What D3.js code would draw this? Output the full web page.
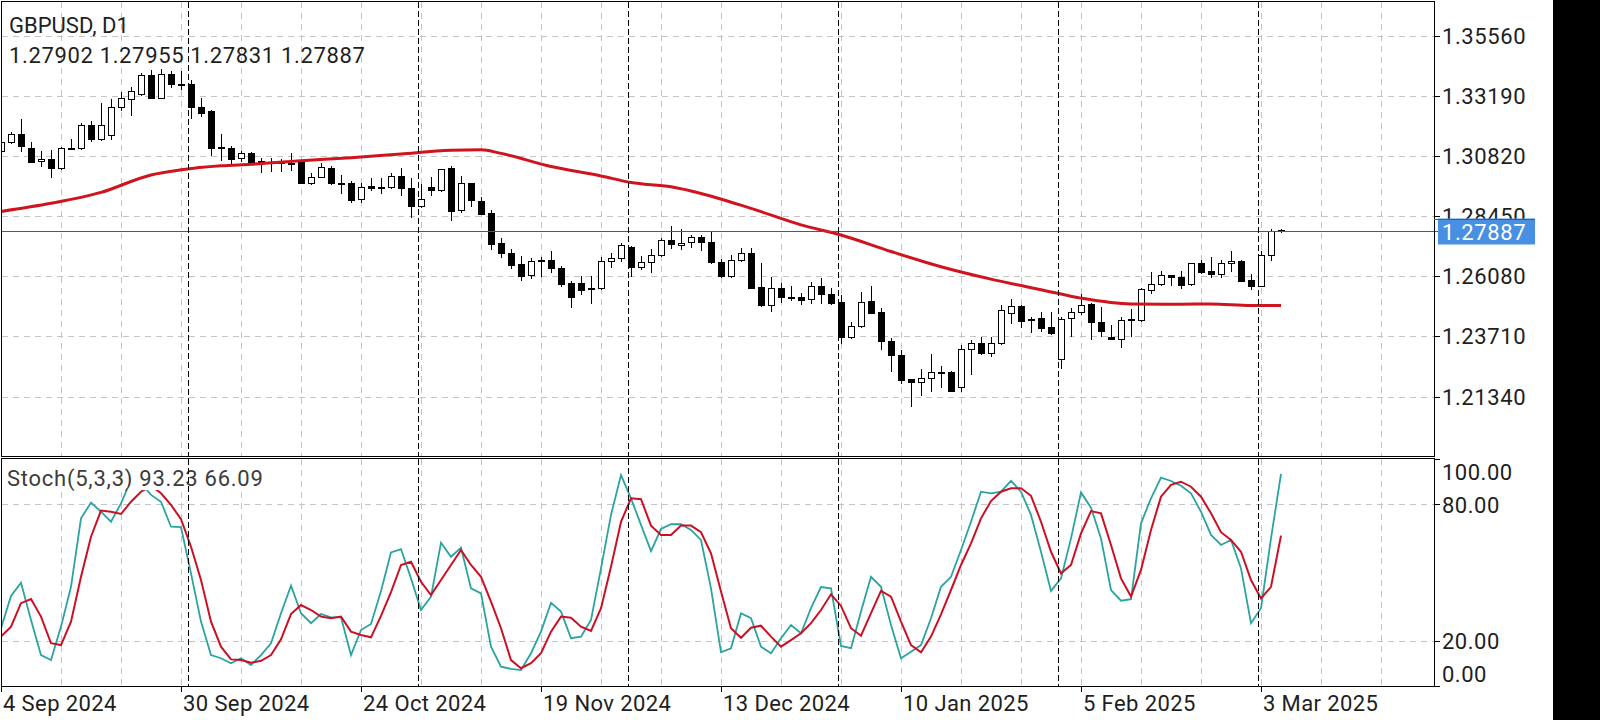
<!DOCTYPE html>
<html><head><meta charset="utf-8">
<script src="https://cdn.jsdelivr.net/npm/d3@7"></script>
<style>
html,body{margin:0;padding:0;background:#fff;overflow:hidden}
text{font-family:Roboto,"DejaVu Sans",sans-serif}
</style>
</head><body>
<svg id="c" width="1600" height="720"></svg>
<script>
// ---------------- DATA ----------------
const symbolTitle = "GBPUSD, D1";
const startDate = "2024-09-04";
const holidays = ["2024-12-25", "2025-01-01"];

const opens = [1.3104,1.3137,1.3170,1.3113,1.3063,1.3071,1.3034,1.3112,1.3113,1.3205,
1.3149,1.3166,1.3275,1.3307,1.3327,1.3402,1.3313,1.3406,1.3367,1.3366,
1.3275,1.3260,1.3114,1.3113,1.3074,1.3094,1.3061,1.3059,1.3060,1.3056,
1.3067,1.2978,1.3001,1.3034,1.2976,1.2975,1.2912,1.2965,1.2962,1.2960,
1.3004,1.2956,1.2887,1.2960,1.2949,1.3034,1.2868,1.2975,1.2904,1.2859,
1.2739,1.2699,1.2656,1.2614,1.2669,1.2673,1.2640,1.2583,1.2581,1.2561,
1.2562,1.2670,1.2680,1.2723,1.2643,1.2663,1.2691,1.2750,1.2731,1.2743,
1.2762,1.2742,1.2664,1.2611,1.2672,1.2699,1.2565,1.2493,1.2561,1.2526,
1.2527,1.2518,1.2568,1.2539,1.2506,1.2368,1.2414,1.2511,1.2467,1.2353,
1.2298,1.2202,1.2193,1.2206,1.2231,1.2230,1.2171,1.2321,1.2344,1.2305,
1.2344,1.2463,1.2491,1.2440,1.2443,1.2410,1.2281,1.2443,1.2469,1.2499,
1.2427,1.2370,1.2360,1.2436,1.2434,1.2555,1.2578,1.2612,1.2606,1.2577,
1.2660,1.2629,1.2616,1.2660,1.2669,1.2594,1.2571,1.2693,1.27902];

const highs = [1.3142,1.3179,1.3228,1.3137,1.3103,1.3107,1.3120,1.3149,1.3214,1.3222,
1.3293,1.3307,1.3334,1.3356,1.3409,1.3422,1.3425,1.3419,1.3419,1.3383,
1.3310,1.3264,1.3170,1.3123,1.3103,1.3098,1.3074,1.3074,1.3070,1.3094,
1.3068,1.3017,1.3056,1.3044,1.3008,1.2985,1.2978,1.2995,1.2995,1.3015,
1.3034,1.2995,1.2973,1.2999,1.3032,1.3044,1.3004,1.2978,1.2922,1.2870,
1.2761,1.2715,1.2690,1.2680,1.2686,1.2706,1.2650,1.2591,1.2610,1.2610,
1.2686,1.2702,1.2741,1.2728,1.2690,1.2715,1.2761,1.2807,1.2794,1.2771,
1.2771,1.2784,1.2676,1.2693,1.2720,1.2719,1.2660,1.2607,1.2580,1.2570,
1.2544,1.2586,1.2603,1.2561,1.2535,1.2427,1.2548,1.2568,1.2482,1.2364,
1.2318,1.2204,1.2242,1.2301,1.2255,1.2236,1.2338,1.2355,1.2368,1.2368,
1.2495,1.2518,1.2493,1.2449,1.2469,1.2467,1.2449,1.2483,1.2539,1.2502,
1.2486,1.2417,1.2449,1.2478,1.2561,1.2627,1.2629,1.2615,1.2631,1.2662,
1.2673,1.2686,1.2673,1.2708,1.2671,1.2618,1.2709,1.2795,1.27955];

const lows = [1.3101,1.3133,1.3104,1.3058,1.3044,1.2999,1.3030,1.3109,1.3111,1.3142,
1.3147,1.3149,1.3264,1.3243,1.3323,1.3311,1.3310,1.3356,1.3346,1.3234,
1.3242,1.3087,1.3067,1.3054,1.3063,1.3058,1.3019,1.3025,1.3025,1.3028,
1.2975,1.2973,1.3000,1.2973,1.2938,1.2903,1.2903,1.2949,1.2938,1.2956,
1.2929,1.2841,1.2883,1.2929,1.2946,1.2831,1.2862,1.2886,1.2854,1.2715,
1.2683,1.2640,1.2594,1.2603,1.2610,1.2627,1.2571,1.2486,1.2539,1.2504,
1.2559,1.2644,1.2670,1.2610,1.2636,1.2627,1.2689,1.2719,1.2715,1.2723,
1.2710,1.2660,1.2604,1.2604,1.2670,1.2561,1.2491,1.2473,1.2505,1.2515,
1.2498,1.2502,1.2502,1.2500,1.2347,1.2366,1.2410,1.2463,1.2321,1.2236,
1.2189,1.2098,1.2138,1.2157,1.2173,1.2156,1.2157,1.2223,1.2303,1.2292,
1.2342,1.2423,1.2410,1.2390,1.2393,1.2382,1.2246,1.2373,1.2460,1.2360,
1.2373,1.2359,1.2331,1.2373,1.2432,1.2544,1.2574,1.2574,1.2561,1.2575,
1.2622,1.2607,1.2605,1.2631,1.2589,1.2557,1.2568,1.2673,1.27831];

const closes = [1.3139,1.3170,1.3122,1.3060,1.3071,1.3034,1.3113,1.3115,1.3205,1.3149,
1.3205,1.3275,1.3310,1.3339,1.3402,1.3313,1.3406,1.3366,1.3365,1.3275,
1.3254,1.3113,1.3117,1.3071,1.3094,1.3060,1.3059,1.3056,1.3058,1.3057,
1.2978,1.2999,1.3041,1.2975,1.2974,1.2909,1.2962,1.2956,1.2956,1.3004,
1.2956,1.2887,1.2912,1.2947,1.3030,1.2867,1.2975,1.2908,1.2855,1.2736,
1.2699,1.2653,1.2610,1.2669,1.2671,1.2640,1.2578,1.2526,1.2555,1.2563,
1.2670,1.2680,1.2732,1.2644,1.2663,1.2691,1.2750,1.2735,1.2739,1.2762,
1.2743,1.2663,1.2611,1.2672,1.2699,1.2562,1.2493,1.2561,1.2525,1.2524,
1.2515,1.2568,1.2539,1.2502,1.2370,1.2414,1.2508,1.2465,1.2351,1.2296,
1.2200,1.2193,1.2206,1.2230,1.2229,1.2157,1.2321,1.2344,1.2305,1.2344,
1.2476,1.2491,1.2433,1.2438,1.2406,1.2384,1.2440,1.2469,1.2496,1.2426,
1.2394,1.2360,1.2436,1.2438,1.2557,1.2577,1.2612,1.2605,1.2574,1.2660,
1.2624,1.2616,1.2660,1.2669,1.2591,1.2568,1.2693,1.2787,1.27887];

// moving average (red), read at selected bars
const maIdx = [0,5,10,15,18,22,25,30,35,40,45,48,50,55,60,63,67,70,75,80,84,89,94,99,104,108,113,118,121,125,128];
const maVal = [1.2864,1.2896,1.2939,1.3008,1.3028,1.3044,1.3050,1.3064,1.3076,1.3091,1.3105,1.3107,1.3093,1.3041,1.3004,1.2978,1.2961,1.2935,1.2876,1.2811,1.2771,1.2706,1.2646,1.2597,1.2555,1.2522,1.2499,1.2498,1.2499,1.2493,1.2493];

// Stochastic(5,3,3)
const stochK = [25.4,39.6,45.4,29.0,13.6,11.4,26.1,43.6,73.7,80.6,
76.6,72.2,80.3,90.5,89.1,84.0,81.0,70.0,69.8,49.5,
28.3,13.6,12.2,10.0,12.2,9.2,13.6,18.8,32.0,44.1,
32.0,27.6,31.6,30.2,30.2,13.6,24.6,27.3,41.8,58.7,
60.2,47.3,33.4,39.3,63.0,56.8,60.8,42.9,40.7,17.3,
8.5,7.5,7.0,14.4,23.9,36.6,32.7,21.0,21.7,29.0,
51.7,75.2,92.7,82.5,70.8,59.3,69.0,71.1,71.1,68.6,
64.2,42.9,14.8,16.6,32.0,29.8,17.3,14.4,21.0,26.8,
23.2,34.2,43.5,42.9,17.6,16.6,32.7,48.0,43.6,26.8,
12.2,15.1,18.0,29.8,43.6,48.0,59.8,72.2,85.4,84.7,
85.4,90.2,85.4,75.2,59.0,41.8,47.3,64.9,85.1,78.4,
64.9,42.2,37.5,38.2,71.5,82.5,91.6,90.1,88.0,84.7,
76.6,66.4,62.0,64.2,51.7,27.6,34.2,64.9,93.23];
const stochD = [21.7,26.1,36.4,38.2,30.5,18.8,18.0,28.3,48.0,65.6,
77.1,76.6,75.6,81.0,85.4,88.0,84.7,79.6,73.3,61.2,
46.6,28.3,17.3,11.7,11.4,10.2,11.1,13.6,20.5,31.6,
35.6,33.4,30.5,29.8,30.5,23.9,22.4,21.4,30.8,41.3,
53.2,54.6,45.8,40.0,46.6,53.2,59.8,53.2,48.0,37.1,
25.4,11.4,7.8,10.0,14.4,23.9,30.5,30.0,26.1,24.2,
34.2,52.4,72.2,82.5,82.1,70.5,66.4,66.4,70.5,70.5,
67.6,58.3,41.5,25.4,21.2,25.6,26.5,21.7,17.3,20.2,
23.2,27.6,33.4,40.3,35.2,25.4,22.1,32.0,41.8,39.3,
28.3,18.0,14.8,21.7,31.5,42.2,53.2,62.7,73.7,81.3,
85.4,86.9,86.9,83.6,72.2,59.0,49.5,53.2,67.1,76.9,
75.9,62.0,47.3,39.3,51.0,68.6,83.2,88.4,89.8,87.6,
83.2,75.9,67.6,64.2,59.0,46.6,38.5,43.6,66.09];

const priceTicks = [1.2134,1.2371,1.2608,1.2845,1.3082,1.3319,1.3556];
const stochTicks = [0,20,80,100];
const stochGrid = [20,80];
const labelEvery = 18;   // bars between date labels
const gridEvery = 6;     // bars between vertical grid lines

// ---------------- LAYOUT ----------------
const svg = d3.select("#c");
const L = 1.5, R = 1434.5, mT = 1.5, mB = 456.5, sT = 458.5, sB = 686.5;
const n = opens.length;
const x = d3.scaleLinear().domain([0, n - 1]).range([1, 1281]);
const y = d3.scaleLinear().domain([priceTicks[0], priceTicks[priceTicks.length-1]]).range([396.5, 36]);
const ys = d3.scaleLinear().domain([0, 100]).range([686, 458.5]);
const barMax = Math.floor(x.invert(R));

// trading dates
const hol = new Set(holidays);
const dates = [];
{
  const d = new Date(startDate + "T00:00:00Z");
  while (dates.length < n) {
    const wd = d.getUTCDay(), key = d.toISOString().slice(0, 10);
    if (wd !== 0 && wd !== 6 && !hol.has(key)) dates.push(new Date(d));
    d.setUTCDate(d.getUTCDate() + 1);
  }
}
const fmt = d3.utcFormat("%-d %b %Y");
const sepIdx = d3.range(1, n).filter(i => dates[i].getUTCMonth() !== dates[i-1].getUTCMonth());
const labelIdx = d3.range(0, n, labelEvery);
const gridIdx = d3.range(0, barMax + 1, gridEvery);

svg.append("rect").attr("width", 1600).attr("height", 720).attr("fill", "#fff");
svg.append("rect").attr("x", 1553).attr("y", 0).attr("width", 47).attr("height", 720).attr("fill", "#000");

const defs = svg.append("defs");
defs.append("clipPath").attr("id", "cm").append("rect").attr("x", L).attr("y", mT).attr("width", R - L).attr("height", mB - mT);
defs.append("clipPath").attr("id", "cs").append("rect").attr("x", L).attr("y", sT).attr("width", R - L).attr("height", sB - sT);

const gridCol = "#c4c4c4", dash = "6,5";
// ---- main panel grid
const gm = svg.append("g").attr("clip-path", "url(#cm)").attr("shape-rendering", "crispEdges");
gm.selectAll("line.h").data(priceTicks).join("line")
  .attr("x1", L).attr("x2", R).attr("y1", d => Math.round(y(d)) + 0.5).attr("y2", d => Math.round(y(d)) + 0.5)
  .attr("stroke", gridCol).attr("stroke-dasharray", dash);
gm.selectAll("line.v").data(gridIdx).join("line")
  .attr("x1", d => x(d) + 0.5).attr("x2", d => x(d) + 0.5).attr("y1", mT).attr("y2", mB)
  .attr("stroke", gridCol).attr("stroke-dasharray", dash);

// ---- stoch grid
const gs = svg.append("g").attr("clip-path", "url(#cs)").attr("shape-rendering", "crispEdges");
gs.selectAll("line.h").data(stochGrid).join("line")
  .attr("x1", L).attr("x2", R).attr("y1", d => Math.round(ys(d)) + 0.5).attr("y2", d => Math.round(ys(d)) + 0.5)
  .attr("stroke", gridCol).attr("stroke-dasharray", dash);
gs.selectAll("line.v").data(gridIdx).join("line")
  .attr("x1", d => x(d) + 0.5).attr("x2", d => x(d) + 0.5).attr("y1", sT).attr("y2", sB)
  .attr("stroke", gridCol).attr("stroke-dasharray", dash);

// ---- candles
const bars = d3.range(n).map(i => ({i, o: opens[i], h: highs[i], l: lows[i], c: closes[i]}));
const gc = svg.append("g").attr("clip-path", "url(#cm)").attr("shape-rendering", "crispEdges");
gc.selectAll("line.w").data(bars).join("line")
  .attr("x1", d => x(d.i) + 0.5).attr("x2", d => x(d.i) + 0.5)
  .attr("y1", d => Math.round(y(d.h))).attr("y2", d => Math.round(y(d.l)) + 1)
  .attr("stroke", "#000");
gc.selectAll("rect.b").data(bars).join("rect")
  .attr("x", d => x(d.i) - 2.5)
  .attr("y", d => Math.round(y(Math.max(d.o, d.c))) + 0.5)
  .attr("width", 6)
  .attr("height", d => Math.max(1, Math.round(y(Math.min(d.o, d.c))) - Math.round(y(Math.max(d.o, d.c)))))
  .attr("fill", d => d.c >= d.o ? "#fff" : "#000")
  .attr("stroke", "#000");

// ---- moving average
const ma = maIdx.map((k, j) => [k, maVal[j]]);
svg.append("path").attr("clip-path", "url(#cm)")
  .datum(ma)
  .attr("d", d3.line().x(d => x(d[0])).y(d => y(d[1])).curve(d3.curveMonotoneX))
  .attr("fill", "none").attr("stroke", "#d0141e").attr("stroke-width", 3).attr("stroke-linejoin", "round");

// ---- current price line
const last = closes[n - 1];
const yl = Math.round(y(last)) + 0.5;
svg.append("line").attr("x1", L).attr("x2", 1438).attr("y1", yl).attr("y2", yl)
  .attr("stroke", "#8a3c64").attr("stroke-width", 1).attr("shape-rendering", "crispEdges");

// ---- stochastic lines
const gsl = svg.append("g").attr("clip-path", "url(#cs)");
gsl.append("path").datum(stochK)
  .attr("d", d3.line().x((d, i) => x(i)).y(d => ys(d)))
  .attr("fill", "none").attr("stroke", "#2ba39f").attr("stroke-width", 1.8);
gsl.append("path").datum(stochD)
  .attr("d", d3.line().x((d, i) => x(i)).y(d => ys(d)))
  .attr("fill", "none").attr("stroke", "#cc1024").attr("stroke-width", 2);

// ---- stoch label with background
const stochLabel = `Stoch(5,3,3) ${stochK[n-1].toFixed(2)} ${stochD[n-1].toFixed(2)}`;
svg.append("rect").attr("x", L + 0.5).attr("y", sT + 0.5).attr("width", 266).attr("height", 31).attr("fill", "#fff");
svg.append("text").attr("x", 7).attr("y", 486).attr("font-size", 22).attr("letter-spacing", 0.75)
  .attr("fill", "#3c3c3c").text(stochLabel);

// ---- header
const ohlc = [opens, highs, lows, closes].map(a => a[n - 1].toFixed(5)).join(" ");
svg.append("text").attr("x", 9).attr("y", 33).attr("font-size", 22).attr("fill", "#1e1e1e").text(symbolTitle);
svg.append("text").attr("x", 9).attr("y", 63).attr("font-size", 22).attr("letter-spacing", 0.65)
  .attr("fill", "#1e1e1e").text(ohlc);

// ---- period separators
const gsep = svg.append("g").attr("shape-rendering", "crispEdges");
[[mT, mB], [sT, sB]].forEach(([a, b]) => {
  gsep.selectAll(null).data(sepIdx).join("line")
    .attr("x1", d => Math.round(x(d) - 3) + 0.5).attr("x2", d => Math.round(x(d) - 3) + 0.5)
    .attr("y1", a).attr("y2", b)
    .attr("stroke", "#000").attr("stroke-dasharray", "6,3");
});

// ---- borders
const gb = svg.append("g").attr("shape-rendering", "crispEdges").attr("fill", "none").attr("stroke", "#000");
gb.append("rect").attr("x", L).attr("y", mT).attr("width", R - L).attr("height", mB - mT);
gb.append("rect").attr("x", L).attr("y", sT).attr("width", R - L).attr("height", sB - sT);

// ---- price axis
const ga = svg.append("g");
ga.selectAll("line").data(priceTicks).join("line")
  .attr("x1", R).attr("x2", R + 5).attr("y1", d => Math.round(y(d)) + 0.5).attr("y2", d => Math.round(y(d)) + 0.5)
  .attr("stroke", "#000").attr("shape-rendering", "crispEdges");
ga.selectAll("text").data(priceTicks).join("text")
  .attr("x", 1442).attr("y", d => y(d) + 8).attr("font-size", 22).attr("letter-spacing", 0.6)
  .attr("fill", "#1e1e1e").text(d => d.toFixed(5));

// current price tag
svg.append("rect").attr("x", 1438).attr("y", yl - 13).attr("width", 97).attr("height", 26).attr("fill", "#4a90e2");
svg.append("line").attr("x1", 1434).attr("x2", 1535).attr("y1", yl - 12.5).attr("y2", yl - 12.5).attr("stroke", "#8a3c64").attr("shape-rendering", "crispEdges");
svg.append("text").attr("x", 1442).attr("y", yl + 8.5).attr("font-size", 22).attr("letter-spacing", 0.6)
  .attr("fill", "#fff").text(last.toFixed(5));

// stoch axis
const gsa = svg.append("g");
gsa.selectAll("line").data(stochTicks).join("line")
  .attr("x1", R).attr("x2", R + 5).attr("y1", d => Math.round(ys(d)) + 0.5).attr("y2", d => Math.round(ys(d)) + 0.5)
  .attr("stroke", "#000").attr("shape-rendering", "crispEdges");
gsa.selectAll("text").data(stochTicks).join("text")
  .attr("x", 1442).attr("y", d => Math.min(sB - 5, Math.max(sT + 21.5, ys(d) + 8.5)))
  .attr("font-size", 22).attr("letter-spacing", 0.5).attr("fill", "#1e1e1e").text(d => d.toFixed(2));

// ---- date axis
const gd = svg.append("g");
gd.selectAll("line").data(labelIdx).join("line")
  .attr("x1", d => x(d) + 0.5).attr("x2", d => x(d) + 0.5).attr("y1", sB).attr("y2", sB + 5)
  .attr("stroke", "#000").attr("shape-rendering", "crispEdges");
gd.selectAll("text").data(labelIdx).join("text")
  .attr("x", d => x(d) + 2).attr("y", 711).attr("font-size", 22).attr("letter-spacing", 0.4)
  .attr("fill", "#1e1e1e").text(d => fmt(dates[d]));
</script>
</body></html>
